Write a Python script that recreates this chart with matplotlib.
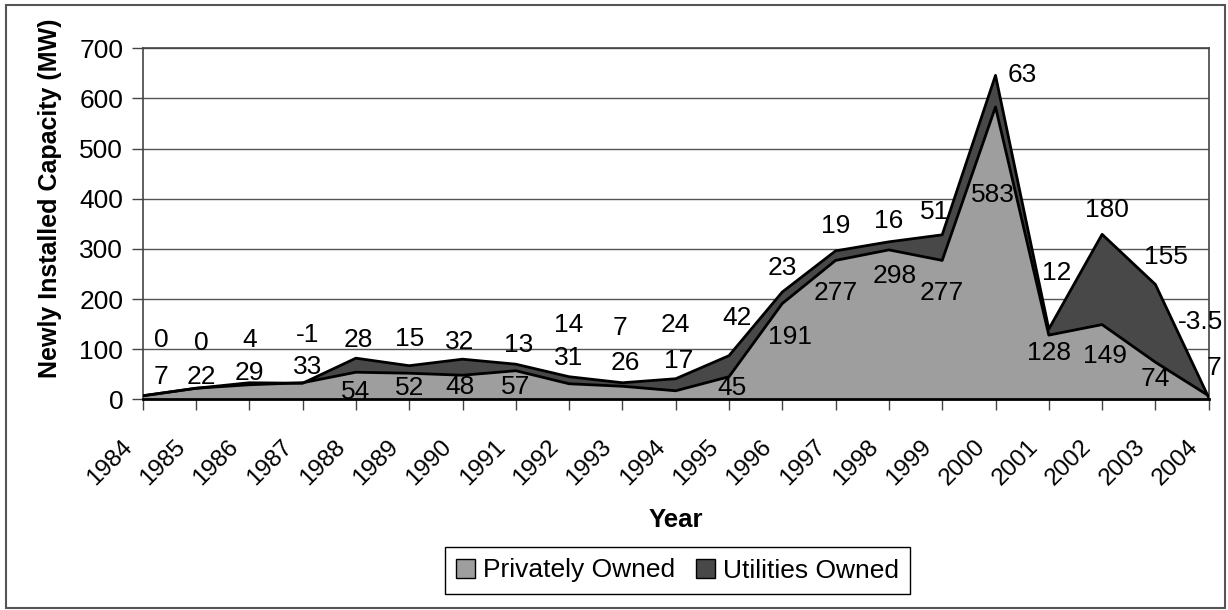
import matplotlib.pyplot as plt
from matplotlib.patches import Patch, Rectangle
from matplotlib.transforms import ScaledTranslation

plt.rcParams['font.family'] = ['Liberation Sans', 'DejaVu Sans']

# Data
years = list(range(1984, 2005))
private = [7, 22, 29, 33, 54, 52, 48, 57, 31, 26, 17, 45, 191, 277, 298, 277, 583, 128, 149, 74, 7]
utilities = [0, 0, 4, -1, 28, 15, 32, 13, 14, 7, 24, 42, 23, 19, 16, 51, 63, 12, 180, 155, -3.5]
utilities_text = ['0', '0', '4', '-1', '28', '15', '32', '13', '14', '7', '24', '42', '23', '19',
                  '16', '51', '63', '12', '180', '155', '-3.5']

# label anchor positions (data coords), hand placed like the original
priv_lx = [1984.35, 1985.1, 1986.0, 1987.1, 1988.0, 1989.0, 1989.95, 1991.0, 1992.0, 1993.05,
           1994.05, 1995.05, 1996.15, 1997.0, 1998.1, 1999.0, 1999.95, 2001.0, 2002.05, 2003.0, 2004.1]
priv_ly = [45, 45, 53, 65, 15, 22, 24, 24, 82, 72, 77, 22, 125, 211, 245, 211, 407, 93, 86, 40, 62]
util_lx = [1984.35, 1985.1, 1986.0, 1987.1, 1988.05, 1989.0, 1989.95, 1991.05, 1992.0, 1992.95,
           1994.0, 1995.15, 1996.0, 1997.0, 1998.0, 1998.85, 2000.5, 2001.15, 2002.1, 2003.2, 2003.85]
util_ly = [118, 112, 118, 128, 118, 120, 115, 108, 148, 143, 148, 163, 261, 345, 356, 374, 647, 252, 377, 284, 155]

total = [p + u for p, u in zip(private, utilities)]

fig = plt.figure(figsize=(12.28, 6.10), dpi=100)
ax = fig.add_axes([142.7 / 1228, 1 - 399.3 / 610, 1066 / 1228, 351 / 610])

ax.fill_between(years, 0, private, color='#9e9e9e', lw=0, zorder=2)
ax.fill_between(years, private, total, color='#484848', lw=0, zorder=2)
ax.plot(years, private, color='black', lw=2, zorder=3)
ax.plot(years, total, color='black', lw=2, zorder=3)

ax.set_xlim(1984, 2004)
ax.set_ylim(0, 700)
ax.set_yticks(range(0, 701, 100))
ax.set_xticks(years)
ax.set_xticklabels([str(y) for y in years], rotation=45, ha='right', va='center',
                   rotation_mode='anchor')
ax.tick_params(axis='x', length=8, width=1, pad=24, labelsize=17.5, color='#444444')
ax.tick_params(axis='y', length=8, width=1, pad=6, labelsize=19, color='#444444')
shift = ScaledTranslation(-0.14, 0, fig.dpi_scale_trans)
for lab in ax.get_xticklabels():
    lab.set_transform(lab.get_transform() + shift)
ax.grid(axis='y', color='#555555', lw=1, zorder=1)
for side in ['top', 'right', 'left', 'bottom']:
    ax.spines[side].set_color('#444444')
    ax.spines[side].set_linewidth(1.2)
ax.spines['bottom'].set_color('black')
ax.spines['bottom'].set_linewidth(2)

for x, y, v in zip(priv_lx, priv_ly, private):
    ax.text(x, y, str(v), ha='center', va='center', fontsize=19, zorder=4, clip_on=False)
for x, y, t in zip(util_lx, util_ly, utilities_text):
    ax.text(x, y, t, ha='center', va='center', fontsize=19, zorder=4, clip_on=False)

fig.text(50 / 1228, 1 - 198 / 610, 'Newly Installed Capacity (MW)', rotation=90,
         ha='center', va='center', fontsize=18, fontweight='bold')
fig.text(676 / 1228, 1 - 520 / 610, 'Year', ha='center', va='center', fontsize=18.5, fontweight='bold')

handles = [Patch(facecolor='#9e9e9e', edgecolor='black', label='Privately Owned'),
           Patch(facecolor='#484848', edgecolor='black', label='Utilities Owned')]
leg = fig.legend(handles=handles, loc='center', bbox_to_anchor=(677.5 / 1228, 1 - 570.5 / 610), ncol=2,
                 fontsize=19, fancybox=False, edgecolor='black', framealpha=1,
                 handlelength=0.7, handleheight=0.7, handletextpad=0.3, columnspacing=0.8,
                 borderpad=0.45, borderaxespad=0)
leg.get_frame().set_linewidth(1)

fig.patches.append(Rectangle((6 / 1228, 2 / 610), 1219 / 1228, 603 / 610, transform=fig.transFigure,
                             fill=False, edgecolor='#555555', lw=1.5))

fig.savefig('out.png', dpi=100)
